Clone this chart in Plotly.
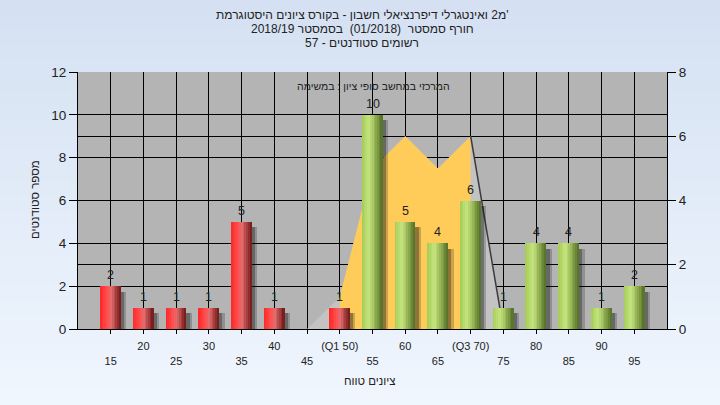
import plotly.graph_objects as go

# ---------------- data ----------------
scores = [15, 20, 25, 30, 35, 40, 45, 50, 55, 60, 65, 70, 75, 80, 85, 90, 95]
tick_labels = ["15", "20", "25", "30", "35", "40", "45", "(Q1 50)", "55", "60",
               "65", "(Q3 70)", "75", "80", "85", "90", "95"]
counts = [2, 1, 1, 1, 5, 1, 0, 1, 10, 5, 4, 6, 1, 4, 4, 1, 2]
pass_score = 55

dist_labels = ["45", "(Q1 50)", "55", "60", "65", "(Q3 70)", "75"]
dist_values = [0, 1, 5, 6, 5, 6, 0]

# strings as laid out by the original (right-to-left rendering in the browser)
title_lines = [
    "מ2 ואינטגרלי דיפרנציאלי חשבון - בקורס ציונים היסטוגרמת'",
    "2018/19 חורף סמסטר  (01/2018)  בסמסטר",
    "57 - רשומים סטודנטים",
]
inner_title = "המרכזי במחשב סופי ציון : במשימה"
x_title = "ציונים טווח"
y_title = "מספר סטודנטים"

# ---------------- geometry helpers ----------------
W, H = 720, 405
ML, MR, MT, MB = 78, 53, 72, 76
PW, PH = W - ML - MR, H - MT - MB


def px_x(p):
    return (p - ML) / PW


def px_y(p):
    return (H - MB - p) / PH


FONT = "Liberation Sans, Arial, sans-serif"
TXT = "#222222"

red_stops = [(0.0, (255, 38, 38)), (0.35, (255, 80, 80)), (0.55, (226, 108, 108)), (1.0, (112, 22, 22))]
green_stops = [(0.0, (164, 204, 84)), (0.35, (198, 229, 130)), (0.55, (168, 198, 98)), (1.0, (82, 110, 38))]


def grad(stops, t):
    for (t0, c0), (t1, c1) in zip(stops[:-1], stops[1:]):
        if t0 <= t <= t1:
            f = (t - t0) / (t1 - t0)
            c = [round(a + (b - a) * f) for a, b in zip(c0, c1)]
            return "rgb(%d,%d,%d)" % tuple(c)
    c = stops[-1][1]
    return "rgb(%d,%d,%d)" % c


fig = go.Figure()

# ---------- distribution area (main y, right axis 0-8) ----------
fig.add_trace(go.Scatter(
    x=dist_labels, y=dist_values, yaxis="y", mode="lines",
    line=dict(width=0, color="rgba(0,0,0,0)"), fill="tozeroy",
    fillcolor="#C3C3C3", hoverinfo="skip", showlegend=False))
fig.add_trace(go.Scatter(
    x=dist_labels[1:6], y=dist_values[1:6], yaxis="y", mode="lines",
    line=dict(width=0, color="rgba(0,0,0,0)"), fill="tozeroy",
    fillcolor="#FFCC5A", hoverinfo="skip", showlegend=False))
fig.add_trace(go.Scatter(
    x=dist_labels[5:7], y=dist_values[5:7], yaxis="y", mode="lines",
    line=dict(width=1.5, color="#3C3C3C"), hoverinfo="skip", showlegend=False))

# ---------- bars (overlay y2, left axis 0-12) ----------
BW = 0.62
shadow_y = [c - 0.25 if c > 0 else 0 for c in counts]
for off, alpha in [(0.17, 0.22), (0.10, 0.32)]:
    fig.add_trace(go.Bar(
        x=tick_labels, y=[v + 0.2 if v > 0 else 0 for v in shadow_y], base=-0.2,
        yaxis="y2", width=BW, offset=-BW / 2 + off,
        marker=dict(color="rgba(20,20,20,%.2f)" % alpha, line=dict(width=0)),
        hoverinfo="skip", showlegend=False, cliponaxis=False))

N = 12
for i in range(N):
    t = (i + 0.5) / N
    cols = [grad(green_stops if s >= pass_score else red_stops, t) for s in scores]
    fig.add_trace(go.Bar(
        x=tick_labels, y=counts, yaxis="y2", width=BW / N + 0.003,
        offset=-BW / 2 + i * BW / N,
        marker=dict(color=cols, line=dict(width=0)),
        hoverinfo="skip", showlegend=False))

# ---------- background ----------
shapes = []
top_c, bot_c = (212, 225, 242), (240, 246, 254)
nb = 27
for i in range(nb):
    f = (i + 0.5) / nb
    c = tuple(round(a + (b - a) * f) for a, b in zip(top_c, bot_c))
    y0p, y1p = i * H / nb, (i + 1) * H / nb + 1
    shapes.append(dict(type="rect", xref="paper", yref="paper", layer="below",
                       x0=px_x(-2), x1=px_x(W + 2), y0=px_y(y1p), y1=px_y(y0p),
                       fillcolor="rgb(%d,%d,%d)" % c, line=dict(width=0)))
shapes.append(dict(type="rect", xref="paper", yref="paper", layer="below",
                   x0=0, x1=1, y0=0, y1=1, fillcolor="#B4B4B4", line=dict(width=0)))

annotations = []
# value labels above bars (x given as category index)
for idx, c in enumerate(counts):
    if c > 0:
        annotations.append(dict(text=str(c), x=idx, y=c, xref="x", yref="y2",
                                xanchor="center", yanchor="middle", yshift=11,
                                showarrow=False, borderpad=0,
                                font=dict(family=FONT, size=12.5, color=TXT)))
for txt, yp in zip(title_lines, [15, 29, 43]):
    annotations.append(dict(text=txt, xref="paper", yref="paper", x=px_x(362),
                            y=px_y(yp), xanchor="center", yanchor="middle", showarrow=False,
                            borderpad=0, font=dict(family=FONT, size=12, color=TXT)))
annotations.append(dict(text=inner_title, xref="paper", yref="paper", x=px_x(373),
                        y=px_y(86), xanchor="center", yanchor="middle", showarrow=False,
                        borderpad=0, font=dict(family=FONT, size=10.5, color=TXT)))
annotations.append(dict(text=x_title, xref="paper", yref="paper", x=px_x(370),
                        y=px_y(381), xanchor="center", yanchor="middle", showarrow=False,
                        font=dict(family=FONT, size=11.5, color=TXT)))
annotations.append(dict(text=y_title, xref="paper", yref="paper", x=px_x(35),
                        y=px_y(200), xanchor="center", yanchor="middle", showarrow=False,
                        textangle=-90, font=dict(family=FONT, size=11.5, color=TXT)))

ticktext = [("<br>" if i % 2 == 0 else "") + lab for i, lab in enumerate(tick_labels)]

fig.update_layout(
    width=W, height=H, margin=dict(l=ML, r=MR, t=MT, b=MB, pad=0, autoexpand=False),
    paper_bgcolor="#E2EBF8", plot_bgcolor="#B4B4B4",
    barmode="overlay", bargap=0, showlegend=False,
    shapes=shapes, annotations=annotations,
    font=dict(family=FONT, color=TXT),
    xaxis=dict(type="category", categoryorder="array", categoryarray=tick_labels,
               range=[-1, 17], tickvals=tick_labels, ticktext=ticktext, automargin=False,
               showgrid=True, gridcolor="black", gridwidth=1,
               ticks="outside", ticklen=4, tickcolor="black", tickwidth=1,
               showline=True, linecolor="black", linewidth=1,
               tickfont=dict(family=FONT, size=11, color=TXT), ticklabelstandoff=3),
    yaxis=dict(range=[0, 8], dtick=2, side="right", showgrid=True, gridcolor="black",
               gridwidth=1, zeroline=False, ticks="outside", ticklen=8, tickcolor="black",
               showline=True, linecolor="black", linewidth=1, automargin=False,
               tickfont=dict(family=FONT, size=13.5, color=TXT)),
    yaxis2=dict(range=[0, 12], dtick=2, side="left", overlaying="y", showgrid=True,
                gridcolor="black", gridwidth=1, zeroline=False, ticks="outside", ticklen=8,
                tickcolor="black", showline=True, linecolor="black", linewidth=1,
                automargin=False, tickfont=dict(family=FONT, size=13.5, color=TXT)),
)

fig.write_html("out.html", config={"displayModeBar": False},
               post_script="document.body.style.margin='0';document.body.style.padding='0';")
